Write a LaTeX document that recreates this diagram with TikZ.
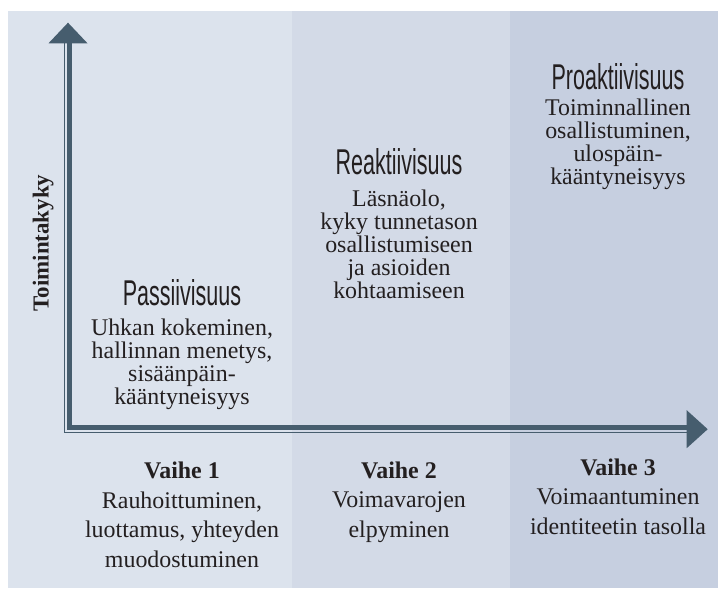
\documentclass[tikz,border=0pt]{standalone}
\usepackage{fontspec}
\setmainfont{Liberation Serif}
\newfontfamily\headfont[FakeStretch=0.6]{Liberation Sans}
\usetikzlibrary{positioning}
\definecolor{paneA}{RGB}{220,227,237}
\definecolor{paneB}{RGB}{211,218,231}
\definecolor{paneC}{RGB}{198,207,224}
\definecolor{axis}{RGB}{70,93,110}
\definecolor{ink}{RGB}{35,31,32}
\begin{document}
\begin{tikzpicture}[
  x=1bp, y=-1bp,
  level/.style={font=\headfont\fontsize{36}{36}\selectfont, text=ink, anchor=base, inner sep=0pt},
  body/.style={font=\fontsize{24}{23.2}\selectfont, text=ink, align=center, anchor=base, inner sep=0pt},
  phase/.style={font=\fontsize{24}{29.8}\selectfont, text=ink, align=center, anchor=base, inner sep=0pt},
]
  \useasboundingbox (0,0) rectangle (718,589);

  % background columns
  \foreach \xa/\xb/\c in {8/292/paneA, 292/510/paneB, 510/718/paneC} {
    \fill[\c] (\xa,11) rectangle (\xb,588);
  }

  % axes
  \coordinate (ytop) at (68,43.3);
  \coordinate (ytip) at (68,22.7);
  \coordinate (xend) at (686.7,429.2);
  \coordinate (xtip) at (707.7,429.2);

  \draw[axis, line width=1.3bp] (64.7,43.3) |- (686.7,432.7);
  \draw[axis, line width=4.6bp] (69.7,43.3) |- (686.7,427.6);
  \fill[axis] ([xshift=-19.5bp]ytop) -- (ytip) -- ([xshift=19.5bp]ytop) -- cycle;
  \fill[axis] ([yshift=-19bp]xend) -- (xtip) -- ([yshift=19bp]xend) -- cycle;

  \node[rotate=90, font=\bfseries\fontsize{23}{23}\selectfont, text=ink, anchor=base, inner sep=0pt]
    (yaxis) at (48.5,243) {Toimintakyky};

  % levels (multi-line nodes sit on their last line)
  \node[level] (passive) at (182,305) {Passiivisuus};
  \node[body] (passivetxt) at (182,404.6)
    {Uhkan kokeminen,\\hallinnan menetys,\\sisäänpäin-\\kääntyneisyys};

  \node[level] (reactive) at (399,175) {Reaktiivisuus};
  \node[body] (reactivetxt) at (399,298.8)
    {Läsnäolo,\\kyky tunnetason\\osallistumiseen\\ja asioiden\\kohtaamiseen};

  \node[level] (proactive) at (618,90) {Proaktiivisuus};
  \node[body] (proactivetxt) at (618,184.6)
    {Toiminnallinen\\osallistuminen,\\ulospäin-\\kääntyneisyys};

  % phases
  \node[phase] (phase1) at (182,567.4)
    {\textbf{Vaihe 1}\\Rauhoittuminen,\\luottamus, yhteyden\\muodostuminen};
  \node[phase] (phase2) at (399,537.6)
    {\textbf{Vaihe 2}\\Voimavarojen\\elpyminen};
  \node[phase] (phase3) at (618,534.6)
    {\textbf{Vaihe 3}\\Voimaantuminen\\identiteetin tasolla};
\end{tikzpicture}
\end{document}
